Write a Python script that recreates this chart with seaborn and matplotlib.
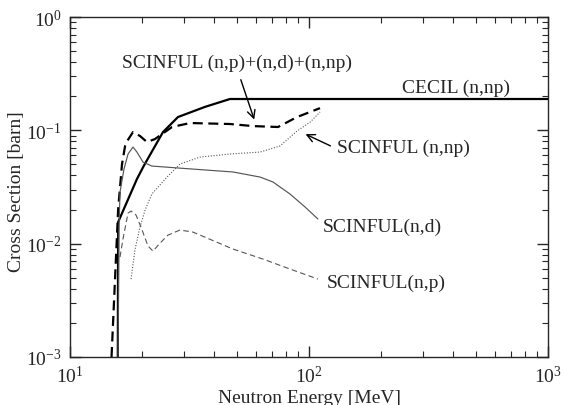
import matplotlib
matplotlib.use("Agg")
import matplotlib.pyplot as plt
import seaborn as sns
import pandas as pd

# ---- data ----
cecil_E = [15.85, 15.9, 19.06, 20.4, 24.5, 28.3, 36.7, 46.7, 1000]
cecil_S = [0.001, 0.0155, 0.0372, 0.049, 0.0966, 0.131, 0.161, 0.189, 0.189]

sum_E = [14.92, 15.9, 16.5, 17.0, 17.32, 18.35, 19.63, 21.0, 22.68, 24.26, 26.73, 31.77, 46.7, 58.3, 74.2, 89.1, 111.2]
sum_S = [0.001, 0.02, 0.05, 0.0728, 0.08, 0.0966, 0.0891, 0.0788, 0.0838, 0.0927, 0.107, 0.116, 0.1137, 0.109, 0.107, 0.131, 0.157]

nd_E = [15.88, 16.03, 16.19, 16.82, 17.49, 18.35, 19.06, 20.2, 22.0, 32.7, 48.1, 62.4, 70.7, 83.3, 96.2, 109]
nd_S = [0.001, 0.01345, 0.0285, 0.0455, 0.0618, 0.0712, 0.0643, 0.0525, 0.0484, 0.0455, 0.0429, 0.0387, 0.035, 0.0274, 0.0211, 0.0165]

nnp_E = [18.0, 18.72, 19.63, 20.6, 22.0, 25.46, 28.86, 35.0, 46.7, 62.4, 75.6, 89.1, 101, 111.2]
nnp_S = [0.00487, 0.00896, 0.014, 0.0197, 0.0274, 0.0387, 0.0504, 0.0581, 0.0618, 0.0643, 0.0727, 0.0986, 0.118, 0.145]

np_E = [16.19, 16.66, 17.49, 18.0, 18.89, 19.82, 21.2, 22.24, 23.8, 25.7, 28.86, 32.7, 48.1, 64.2, 83.3, 109]
np_S = [0.00762, 0.011, 0.0186, 0.0194, 0.0179, 0.014, 0.00953, 0.0086, 0.0101, 0.0119, 0.0132, 0.01265, 0.00896, 0.00731, 0.00597, 0.00487]

sns.set_style("ticks")
plt.rcParams['font.family'] = ['Liberation Serif', 'DejaVu Serif']
plt.rcParams['mathtext.fontset'] = 'custom'
plt.rcParams['mathtext.rm'] = 'Liberation Serif'
plt.rcParams['mathtext.it'] = 'Liberation Serif:italic'

fig = plt.figure(figsize=(5.64, 4.06), dpi=100)
ax = fig.add_axes([70/564, 48/406, 478/564, 340/406])

def draw(E, S, **kw):
    df = pd.DataFrame({"E": E, "S": S})
    sns.lineplot(data=df, x="E", y="S", sort=False, estimator=None, ax=ax, **kw)

draw(cecil_E, cecil_S, color="black", linewidth=1.6)
draw(sum_E, sum_S, color="black", linewidth=1.6, dashes=False, linestyle=(0, (4.5, 2.5)))
draw(nd_E, nd_S, color="#555555", linewidth=0.85)
draw(nnp_E, nnp_S, color="#555555", linewidth=0.8, linestyle=(0, (1, 1.5)))
draw(np_E, np_S, color="#555555", linewidth=0.8, linestyle=(0, (5, 3)))

ax.set_xscale("log")
ax.set_yscale("log")
ax.set_xlim(10, 1000)
ax.set_ylim(1e-3, 1)

for s in ax.spines.values():
    s.set_linewidth(1.0)
    s.set_visible(True)
ax.tick_params(which="both", direction="in", top=True, right=True, labelsize=14)
ax.tick_params(which="major", length=8, width=1.0, pad=6)
ax.tick_params(which="minor", length=4.5, width=0.8)

ax.set_xlabel("Neutron Energy [MeV]", fontsize=14, labelpad=2)
ax.set_ylabel("Cross Section [barn]", fontsize=14)
ax.yaxis.set_label_coords(-0.094, 0.49)

fs = 14
ax.text(16.5, 0.401, "SCINFUL (n,p)+(n,d)+(n,np)", fontsize=fs, va="center", ha="left")
ax.annotate("", xy=(59.5, 0.118), xytext=(51.4, 0.295),
            arrowprops=dict(arrowstyle="->", color="black", lw=1.0, mutation_scale=14))
ax.text(245, 0.241, "CECIL (n,np)", fontsize=fs, va="center", ha="left")
ax.text(131, 0.0712, "SCINFUL (n,np)", fontsize=fs, va="center", ha="left")
ax.annotate("", xy=(94.4, 0.0947), xytext=(126, 0.0712),
            arrowprops=dict(arrowstyle="->", color="black", lw=1.0, mutation_scale=14))
ax.text(114.5, 0.0143, "SCINFUL(n,d)", fontsize=fs, va="center", ha="left")
ax.text(118.9, 0.00458, "SCINFUL(n,p)", fontsize=fs, va="center", ha="left")

fig.savefig("out.png", dpi=100)
